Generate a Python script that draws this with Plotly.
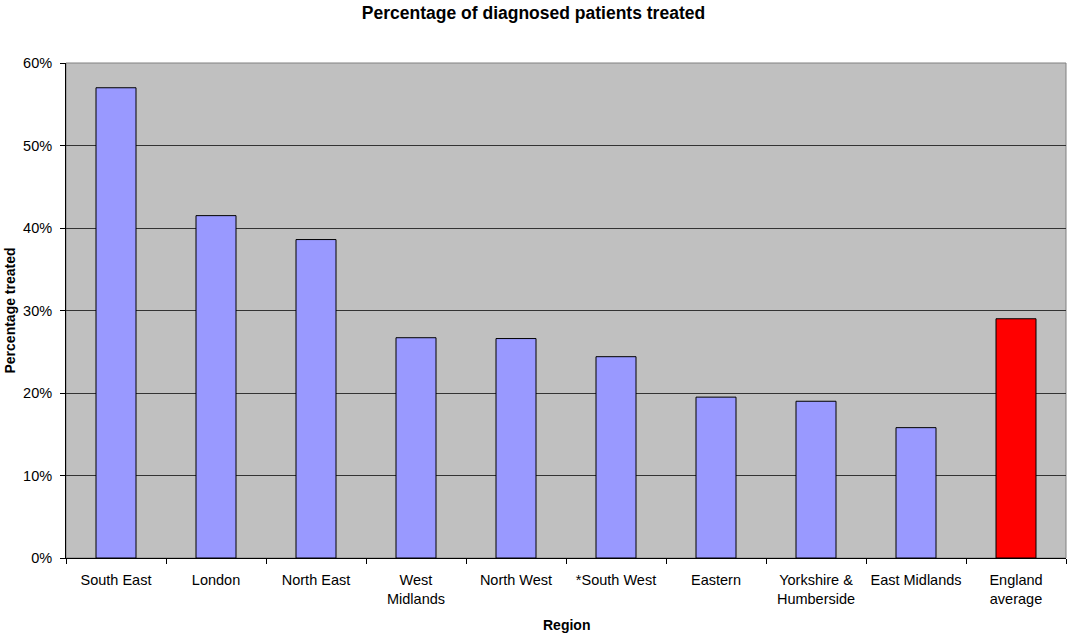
import plotly.graph_objects as go

regions = ["South East", "London", "North East", "West<br>Midlands", "North West",
           "*South West", "Eastern", "Yorkshire &<br>Humberside", "East Midlands",
           "England<br>average"]
pct_treated = [57.0, 41.5, 38.6, 26.7, 26.6, 24.4, 19.5, 19.0, 15.8, 29.0]
bar_colors = ["#9999FF"] * 9 + ["#FF0000"]
y_ticks = [0, 10, 20, 30, 40, 50, 60]
y_labels = ["0%", "10%", "20%", "30%", "40%", "50%", "60%"]

font = "Liberation Sans, Arial, sans-serif"

fig = go.Figure(go.Bar(
    x=regions, y=pct_treated,
    marker=dict(color=bar_colors, line=dict(color="#000000", width=1)),
    width=0.4,
))

fig.update_layout(
    width=1067, height=634,
    margin=dict(l=66, r=1, t=63, b=76),
    paper_bgcolor="#FFFFFF",
    plot_bgcolor="#C0C0C0",
    showlegend=False,
    font=dict(family=font, size=14.5, color="#000000"),
    title=dict(text="<b>Percentage of diagnosed patients treated</b>",
               x=0.5, xanchor="center", y=0.980, yanchor="middle",
               font=dict(family=font, size=17.5, color="#000000")),
    shapes=[dict(type="rect", xref="paper", yref="paper", x0=0, x1=1, y0=0, y1=1,
                 line=dict(color="#808080", width=1), layer="below")],
    annotations=[
        dict(text="<b>Region</b>", xref="paper", yref="paper", x=0.5, y=-0.135,
             xanchor="center", yanchor="middle", showarrow=False,
             font=dict(family=font, size=14)),
        dict(text="<b>Percentage treated</b>", xref="paper", yref="paper",
             x=-0.057, y=0.5, xanchor="center", yanchor="middle", textangle=-90,
             showarrow=False, font=dict(family=font, size=14)),
    ],
)

fig.update_xaxes(
    showgrid=False, showline=True, linecolor="#000000", linewidth=1,
    ticks="outside", tickson="boundaries", ticklen=5, tickcolor="#000000",
    tickangle=0, automargin=False,
    ticklabelstandoff=9,
    tickfont=dict(family=font, size=14.5),
)
fig.update_yaxes(
    range=[0, 60], tickvals=y_ticks, ticktext=y_labels,
    showgrid=True, gridcolor="#333333", gridwidth=1,
    showline=True, linecolor="#000000", linewidth=1,
    ticks="outside", ticklen=5, tickcolor="#000000",
    automargin=False,
    ticklabelstandoff=5,
    tickfont=dict(family=font, size=14.5),
    zeroline=False,
)

fig.write_html("out.html")
